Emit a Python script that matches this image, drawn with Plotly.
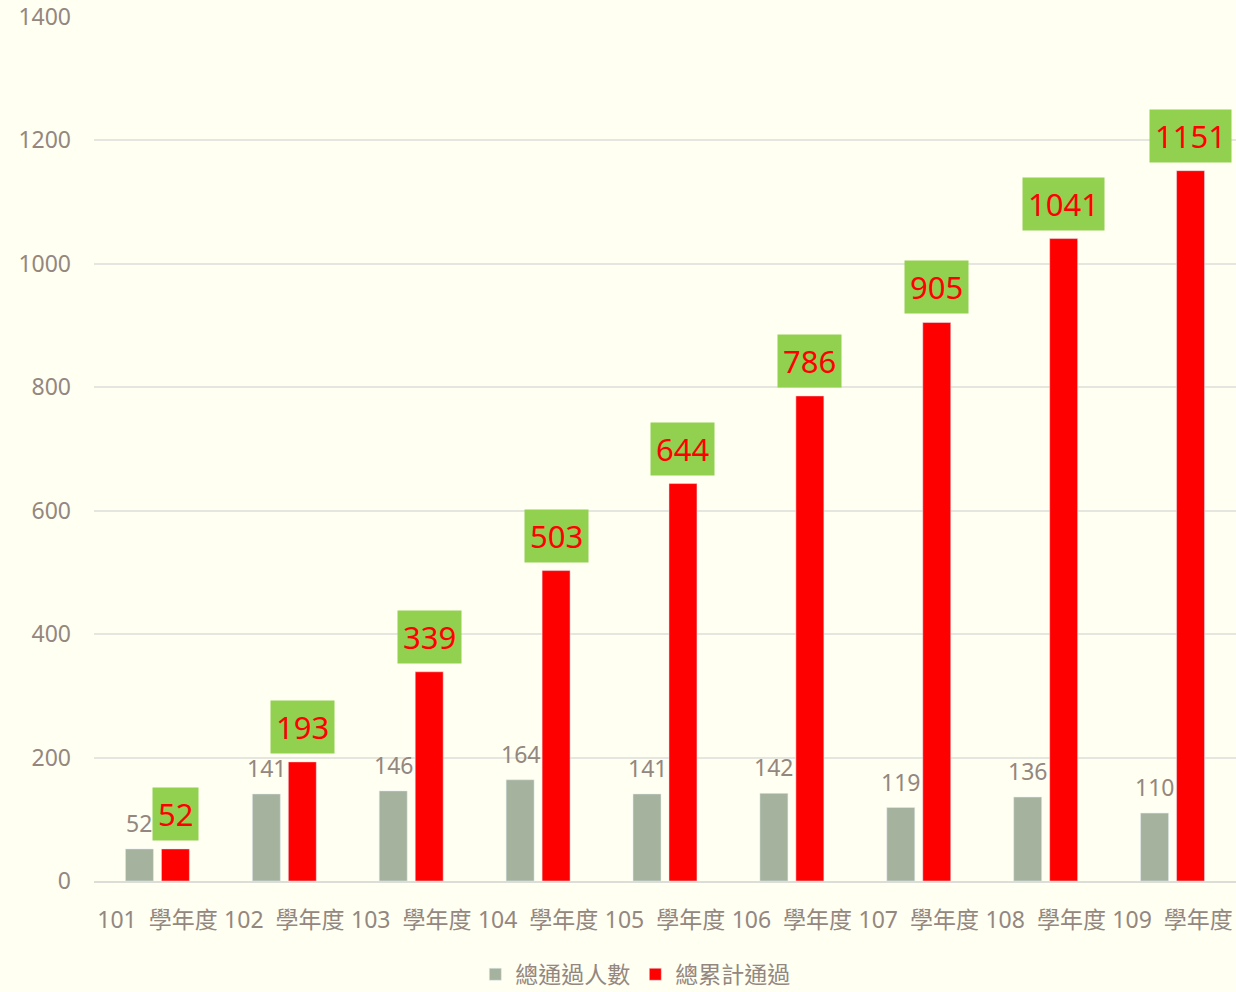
import plotly.graph_objects as go

categories = ["101 學年度", "102 學年度", "103 學年度", "104 學年度", "105 學年度",
              "106 學年度", "107 學年度", "108 學年度", "109 學年度"]
passed = [52, 141, 146, 164, 141, 142, 119, 136, 110]
cumulative = [52, 193, 339, 503, 644, 786, 905, 1041, 1151]
series_names = ["總通過人數", "總累計通過"]
y_ticks = [0, 200, 400, 600, 800, 1000, 1200, 1400]

FONT = "Noto Sans, Noto Sans CJK TC, sans-serif"
TXT = "#938780"
GRAY = "#A5B29E"
RED = "#FF0000"
GREEN = "#92D050"
BG = "#FFFFF2"

BARGAP = 0.433
GROUPGAP = 0.222

fig = go.Figure()
fig.add_trace(go.Bar(
    x=categories, y=passed, name=series_names[0],
    marker=dict(color=GRAY),
))
fig.add_trace(go.Bar(
    x=categories, y=cumulative, name=series_names[1],
    marker=dict(color=RED),
))

# bar offset within category (in category units)
offset = (1 - BARGAP) / 4
for i, v in enumerate(passed):
    fig.add_annotation(
        x=i - offset, y=v, xref="x", yref="y",
        text=str(v), showarrow=False,
        yanchor="bottom", yshift=8,
        font=dict(size=23, color=TXT, family=FONT),
    )
for i, v in enumerate(cumulative):
    fig.add_annotation(
        x=i + offset, y=v, xref="x", yref="y",
        text=str(v), showarrow=False,
        yanchor="bottom", yshift=8,
        font=dict(size=31, color=RED, family=FONT),
        bgcolor=GREEN, borderpad=5,
    )

tick_text = [c.replace(" ", "\u00a0\u00a0") for c in categories]

fig.update_layout(
    width=1236, height=992,
    paper_bgcolor=BG, plot_bgcolor=BG,
    margin=dict(l=94, r=0, t=17, b=111, autoexpand=False),
    barmode="group", bargap=BARGAP, bargroupgap=GROUPGAP,
    font=dict(family=FONT, color=TXT, size=23),
    showlegend=True,
    legend=dict(orientation="h", x=0.474, xanchor="center", y=-0.108, yanchor="middle",
                font=dict(size=23, color=TXT, family=FONT), itemwidth=30,
                bgcolor="rgba(0,0,0,0)"),
    xaxis=dict(type="category", automargin=False, showgrid=False,
               tickvals=categories, ticktext=tick_text,
               showline=True, linecolor="#DDDDD8", linewidth=1.5,
               tickfont=dict(size=23, color=TXT, family=FONT),
               ticks="", ticklabelstandoff=18),
    yaxis=dict(range=[0, 1400], tickvals=y_ticks, automargin=False,
               showgrid=True, gridcolor="#E6E6E0", gridwidth=1.5,
               zeroline=False, showline=False,
               tickfont=dict(size=23, color=TXT, family=FONT),
               ticks="", ticklabelstandoff=22),
)

fig.write_html("out.html", config={"displayModeBar": False},
               post_script="document.body.style.margin='0';document.body.style.background='" + BG + "';")
